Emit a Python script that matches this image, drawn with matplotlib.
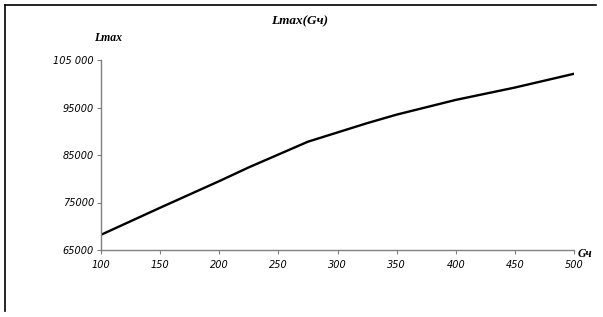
import matplotlib.pyplot as plt
from matplotlib.lines import Line2D

# значения
gch = [100, 150, 200, 225, 275, 325, 350, 400, 450, 500]
lmax = [68200, 73900, 79500, 82400, 87800, 91700, 93500, 96600, 99200, 102100]
yticks = [65000, 75000, 85000, 95000, 105000]
ylabels = ['65000', '75000', '85000', '95000', '105 000']
xticks = [100, 150, 200, 250, 300, 350, 400, 450, 500]

fig = plt.figure(figsize=(6.03, 3.17), dpi=100)
ax = fig.add_axes([101/603, 1-250/317, (574-101)/603, (250-60)/317])

ax.plot(gch, lmax, color='black', lw=1.7, solid_joinstyle='round')
ax.set_xlim(100, 500)
ax.set_ylim(65000, 105000)

ax.set_xticks(xticks)
ax.set_xticklabels([str(v) for v in xticks])
ax.set_yticks(yticks)
ax.set_yticklabels(ylabels)
for lab in ax.get_xticklabels() + ax.get_yticklabels():
    lab.set_fontstyle('italic')
    lab.set_fontsize(7)
ax.tick_params(axis='both', length=3, width=0.8, color='#808080', pad=2)
ax.tick_params(axis='x', pad=4)

for s in ['top', 'right']:
    ax.spines[s].set_visible(False)
for s in ['left', 'bottom']:
    ax.spines[s].set_color('#808080')
    ax.spines[s].set_linewidth(1)

serif = dict(family='Liberation Serif', weight='bold', style='italic')
fig.text(300/603, 1-21/317, 'Lmax(Gч)', ha='center', va='center', fontsize=9.5, **serif)
fig.text(108/603, 1-38/317, 'Lmax', ha='center', va='center', fontsize=8.5, **serif)
fig.text(578/603, 1-254/317, 'Gч', ha='left', va='center', fontsize=8.5, **serif)

# рамка
fig.add_artist(Line2D([5/603, 5/603], [1-5/317, 1-311/317], color='black', lw=1.2))
fig.add_artist(Line2D([5/603, 596/603], [1-5/317, 1-5/317], color='black', lw=1.2))

fig.savefig('out.png', dpi=100)
